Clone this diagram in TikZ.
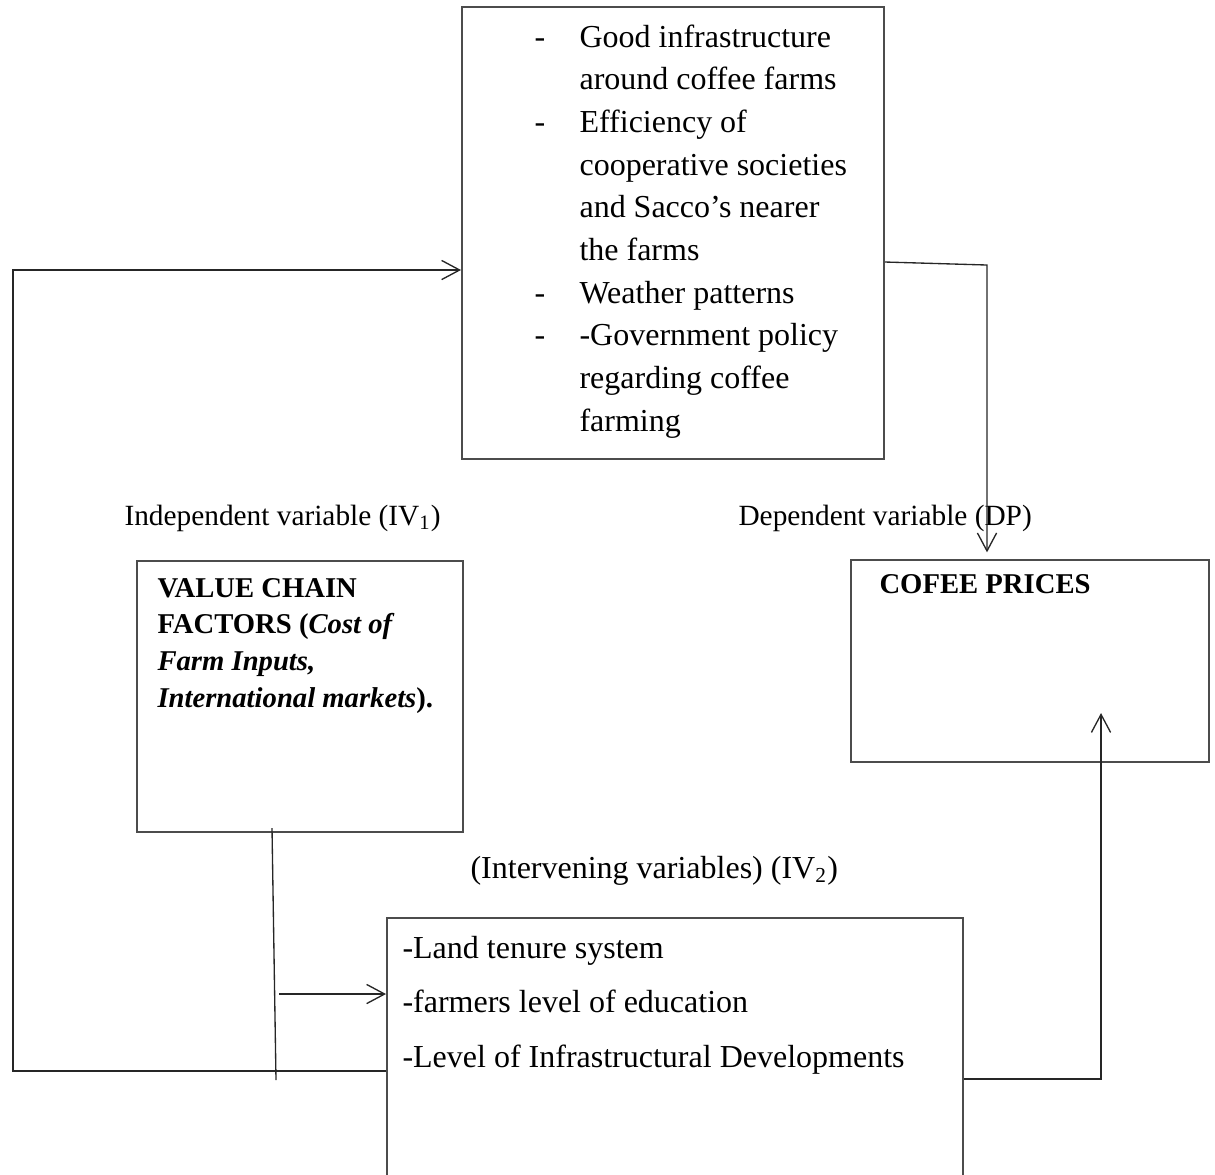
\documentclass[tikz,border=0pt]{standalone}
\usepackage{fontspec}
\setmainfont{Liberation Serif}
\usetikzlibrary{arrows.meta, positioning, fit}
\tikzset{
    % Base style for the framed blocks
    frame/.style={
        rectangle,
        draw=black!70,
        line width=0.75pt,
        inner sep=0pt
    },
    % Text styles
    boxtext/.style={anchor=base west, inner sep=0pt, font=\fontsize{12}{16}\selectfont},
    headtext/.style={boxtext, font=\bfseries\fontsize{10.75}{13.75}\selectfont},
    varText/.style={boxtext, font=\fontsize{11}{13}\selectfont},
    % Connector styles
    link/.style={draw=black!85, line width=0.5pt},
    arrow/.style={link, -{Straight Barb[length=6.75pt, width=7.2pt]}}
}

\begin{document}
\begin{tikzpicture}[x=0.375pt, y=-0.375pt]

    \useasboundingbox (0,0) rectangle (1215,1174);
    \clip (0,0) rectangle (1215,1174);

    % --- BLOCKS ---

    % 1. Moderating conditions (top)
    \node (topbox) [frame, fit={(462,7) (884,459)}] {};
    \node (topitems) [boxtext] at (534,47) {%
        \begin{tabular}[t]{@{}p{16.875pt}@{}l@{}}
            - & Good infrastructure \\
              & around coffee farms \\
            - & Efficiency of \\
              & cooperative societies \\
              & and Sacco’s nearer \\
              & the farms \\
            - & Weather patterns \\
            - & -Government policy \\
              & regarding coffee \\
              & farming
        \end{tabular}};

    % 2. Independent variable
    \node (valuebox) [frame, fit={(137,561) (463,832)}] {};
    \node (valuetext) [headtext] at (157,597) {%
        \begin{tabular}[t]{@{}l@{}}
            VALUE CHAIN \\
            FACTORS (\textit{Cost of} \\
            \textit{Farm Inputs,} \\
            \textit{International markets}).
        \end{tabular}};

    % 3. Dependent variable
    \node (cofeebox) [frame, fit={(851,560) (1209,762)}] {};
    \node (cofeetext) [headtext] at (879,593) {COFEE PRICES};

    % 4. Intervening variables (runs off the page)
    \node (bottombox) [frame, fit={(387,918) (963,1220)}] {};
    \node (bottomtext) [boxtext, font=\fontsize{12}{20.44}\selectfont] at (402,958) {%
        \begin{tabular}[t]{@{}l@{}}
            -Land tenure system \\
            -farmers level of education \\
            -Level of Infrastructural Developments
        \end{tabular}};

    % --- LABELS ---
    \node (ivlabel) [varText] at (124,525) {Independent variable (IV\textsubscript{1})};
    \node (dvlabel) [varText] at (738,525) {Dependent variable (DP)};
    \node (intlabel) [boxtext] at (470,878) {(Intervening variables) (IV\textsubscript{2})};

    % --- Bend points ---
    \coordinate (dropTop) at (987,265);
    \coordinate (loopLow) at (13,1071);
    \coordinate (loopHigh) at (13,270);
    \coordinate (stemTop) at (272,828);
    \coordinate (stemBot) at (276,1080);
    \coordinate (stemOut) at (279,994);
    \coordinate (riseFoot) at (1101,1079);
    \coordinate (riseTip) at (1101,713);

    % --- Arrows ---
    \draw [arrow] (topbox.east |- 0,262) -- (dropTop) -- ([yshift=2.5pt]dropTop |- cofeebox.north);
    \draw [arrow] (bottombox.west |- loopLow) -- (loopLow) -- (loopHigh) -- (topbox.west |- loopHigh);
    \draw [link] (stemTop) -- (stemBot);
    \draw [arrow] (stemOut) -- (bottombox.west |- stemOut);
    \draw [arrow] (bottombox.east |- riseFoot) -- (riseFoot) -- (riseTip);

\end{tikzpicture}
\end{document}
